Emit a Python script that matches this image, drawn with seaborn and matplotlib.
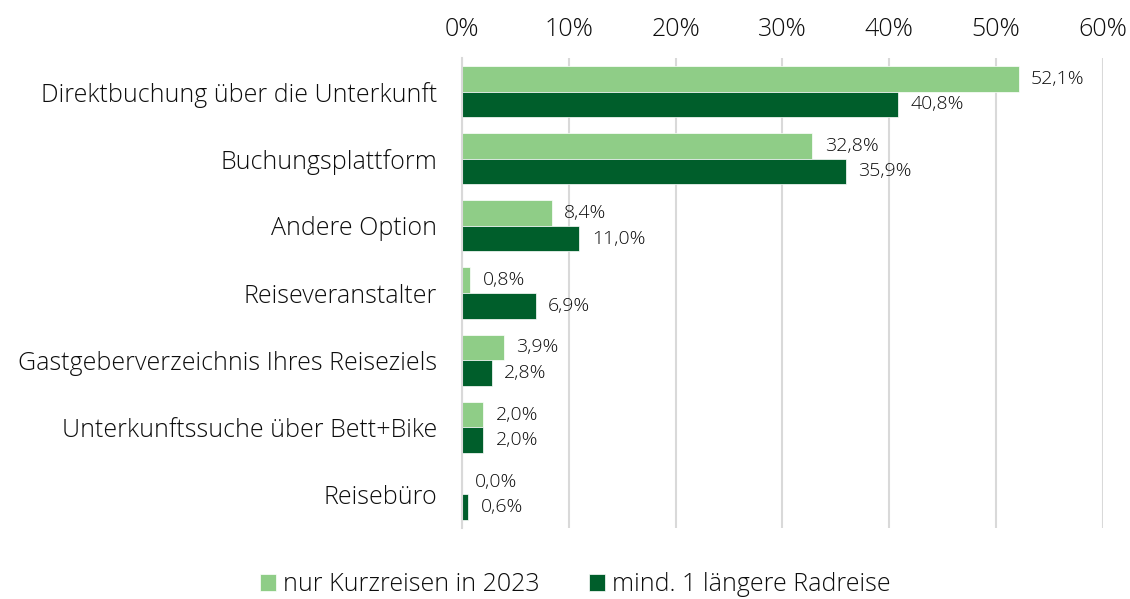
import matplotlib
matplotlib.use("Agg")
import matplotlib.pyplot as plt
import seaborn as sns
import pandas as pd
from matplotlib.ticker import FuncFormatter

categories = [
    "Direktbuchung über die Unterkunft",
    "Buchungsplattform",
    "Andere Option",
    "Reiseveranstalter",
    "Gastgeberverzeichnis Ihres Reiseziels",
    "Unterkunftssuche über Bett+Bike",
    "Reisebüro",
]
series_names = ["nur Kurzreisen in 2023", "mind. 1 längere Radreise"]
kurz = [52.1, 32.8, 8.4, 0.8, 3.9, 2.0, 0.0]
lang = [40.8, 35.9, 11.0, 6.9, 2.8, 2.0, 0.6]
x_ticks = [0, 10, 20, 30, 40, 50, 60]

df = pd.DataFrame({
    "Kategorie": categories * 2,
    "Serie": [series_names[0]] * len(categories) + [series_names[1]] * len(categories),
    "Wert": kurz + lang,
})

sns.set_theme(style="white")
plt.rcParams["font.family"] = ["Open Sans", "DejaVu Sans"]
plt.rcParams["font.weight"] = "light"
text_color = "#0d0d0d"

fig = plt.figure(figsize=(11.30, 5.99), dpi=100)
ax = fig.add_axes([0.4088, 0.1185, 0.5673, 0.7847])

palette = {series_names[0]: "#8fcd87", series_names[1]: "#005e2b"}
sns.barplot(data=df, y="Kategorie", x="Wert", hue="Serie", orient="h",
            palette=palette, width=0.76, ax=ax, edgecolor="white", linewidth=0.5,
            saturation=1)

for cont in ax.containers:
    labels = [f"{v:.1f}".replace(".", ",") + "%" for v in cont.datavalues]
    ax.bar_label(cont, labels=labels, padding=9, fontsize=14, color=text_color)

ax.set_xlim(0, 60)
ax.set_xticks(x_ticks)
ax.xaxis.set_major_formatter(FuncFormatter(lambda v, p: f"{v:.0f}%"))
ax.xaxis.tick_top()
ax.tick_params(axis="x", length=0, pad=11.5, labelsize=18, colors=text_color)
ax.tick_params(axis="y", length=0, pad=18, labelsize=18, colors=text_color)
ax.set_xlabel("")
ax.set_ylabel("")
ax.grid(axis="x", color="#d9d9d9", linewidth=1.5)
ax.set_axisbelow(True)
for s in ["top", "right", "bottom"]:
    ax.spines[s].set_visible(False)
ax.spines["left"].set_color("#d9d9d9")
ax.spines["left"].set_linewidth(1.5)

ax.legend_.remove()
handles, lbls = ax.get_legend_handles_labels()
fig.legend(handles, lbls, loc="center", bbox_to_anchor=(0.509, 0.024), ncol=2,
           frameon=False, fontsize=18, handlelength=0.65, handleheight=0.65,
           handletextpad=0.25, columnspacing=2.0, labelcolor=text_color)

fig.savefig("out.png", dpi=100)
